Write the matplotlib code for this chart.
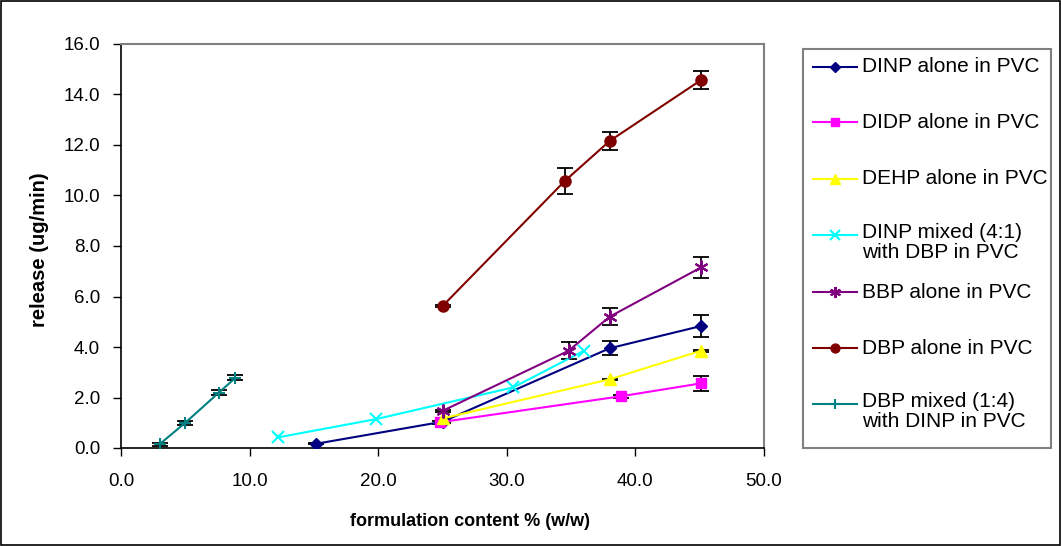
import matplotlib
matplotlib.use("Agg")
import matplotlib.pyplot as plt
from matplotlib.lines import Line2D
from matplotlib.patches import Rectangle

plt.rcParams['font.family'] = ['Liberation Sans', 'DejaVu Sans']

# ---- data ----
dinp_x = [15.2, 25.0, 38.0, 45.1]
dinp_y = [0.17, 1.04, 3.95, 4.83]
dinp_e = [0.03, 0.05, 0.28, 0.44]

didp_x = [24.8, 38.9, 45.1]
didp_y = [1.02, 2.05, 2.56]
didp_e = [0.05, 0.06, 0.29]

dehp_x = [25.0, 38.0, 45.1]
dehp_y = [1.17, 2.72, 3.85]
dehp_e = [0.03, 0.03, 0.03]

dinpmix_x = [12.2, 19.8, 30.5, 36.0]
dinpmix_y = [0.42, 1.14, 2.40, 3.85]

bbp_x = [25.0, 34.8, 38.0, 45.1]
bbp_y = [1.47, 3.85, 5.20, 7.15]
bbp_e = [0.05, 0.33, 0.33, 0.42]

dbp_x = [25.0, 34.5, 38.0, 45.1]
dbp_y = [5.62, 10.57, 12.16, 14.57]
dbp_e = [0.03, 0.51, 0.36, 0.36]

dbpmix_x = [3.0, 5.0, 7.6, 8.9]
dbpmix_y = [0.15, 1.00, 2.19, 2.78]
dbpmix_e = [0.06, 0.08, 0.10, 0.10]

labels = ["DINP alone in PVC", "DIDP alone in PVC", "DEHP alone in PVC",
          "DINP mixed (4:1)\nwith DBP in PVC", "BBP alone in PVC",
          "DBP alone in PVC", "DBP mixed (1:4)\nwith DINP in PVC"]

x_ticks = [0, 10, 20, 30, 40, 50]
y_ticks = [0, 2, 4, 6, 8, 10, 12, 14, 16]

W, H = 1062, 546
fig = plt.figure(figsize=(W / 100, H / 100), dpi=100)
ax = fig.add_axes([121 / W, 1 - 448 / H, (764 - 121) / W, (448 - 44) / H])

styles = [
    dict(color='#000080', marker='D', ms=6.5, mec='#000080', mfc='#000080'),
    dict(color='#FF00FF', marker='s', ms=7, mec='#FF00FF', mfc='#FF00FF'),
    dict(color='#FFFF00', marker='^', ms=9, mec='#FFFF00', mfc='#FFFF00'),
    dict(color='#00FFFF', marker='x', ms=9, mew=1.5, mec='#00FFFF'),
    dict(color='#800080', marker=(6, 2, 0), ms=10, mew=1.5, mec='#800080'),
    dict(color='#800000', marker='o', ms=8, mec='#800000', mfc='#800000'),
    dict(color='#008080', marker='+', ms=9, mew=1.5, mec='#008080'),
]

series = [
    (dinp_x, dinp_y, dinp_e),
    (didp_x, didp_y, didp_e),
    (dehp_x, dehp_y, dehp_e),
    (dinpmix_x, dinpmix_y, None),
    (bbp_x, bbp_y, bbp_e),
    (dbp_x, dbp_y, dbp_e),
    (dbpmix_x, dbpmix_y, dbpmix_e),
]

for (xs, ys, es), st in zip(series, styles):
    if es is not None:
        ax.errorbar(xs, ys, yerr=es, fmt='none', ecolor='black',
                    elinewidth=1.3, capsize=6, capthick=1.3, zorder=2)
    ax.plot(xs, ys, lw=1.5, zorder=3, **st)

ax.set_xlim(0, 50)
ax.set_ylim(0, 16)
ax.set_xticks(x_ticks)
ax.set_yticks(y_ticks)
ax.set_xticklabels([f"{v:.1f}" for v in x_ticks])
ax.set_yticklabels([f"{v:.1f}" for v in y_ticks])
ax.tick_params(direction='out', length=6, width=1, labelsize=13.5, pad=9)
ax.tick_params(axis='x', pad=12)
for s in ['top', 'right']:
    ax.spines[s].set_color('#808080')
    ax.spines[s].set_linewidth(1.5)
for s in ['left', 'bottom']:
    ax.spines[s].set_color('black')
    ax.spines[s].set_linewidth(1.2)

# axis titles (positions from reference)
fig.text(470 / W, 1 - 521 / H, "formulation content % (w/w)", fontsize=13,
         fontweight='bold', ha='center', va='center')
fig.text(40 / W, 1 - 250 / H, "release (ug/min)", fontsize=14.5,
         fontweight='bold', ha='center', va='center', rotation=90)

# ---- manual legend (figure pixel coords) ----
def fx(px):
    return px / W

def fy(py):
    return 1 - py / H

fig.patches.append(Rectangle((fx(803), fy(448)), fx(1051) - fx(803), fy(49) - fy(448),
                             transform=fig.transFigure, fill=False,
                             edgecolor='#808080', lw=1.5))
rows = [66.7, 122.3, 179, 235, 292, 348, 404]
for py, st, lab in zip(rows, styles, labels):
    st2 = dict(st)
    st2['ms'] = st2['ms'] * 0.8
    fig.add_artist(Line2D([fx(813), fx(857)], [fy(py), fy(py)],
                          transform=fig.transFigure, lw=1.5,
                          color=st2['color']))
    fig.add_artist(Line2D([fx(835)], [fy(py)], transform=fig.transFigure,
                          linestyle='none', **st2))
    if '\n' in lab:
        fig.text(fx(862), fy(py - 12), lab, fontsize=15, va='top', ha='left',
                 linespacing=1.05, transform=fig.transFigure)
    else:
        fig.text(fx(862), fy(py), lab, fontsize=15, va='center', ha='left',
                 transform=fig.transFigure)

# outer border
fig.patches.append(Rectangle((0.0005, 0.001), 0.998, 0.997, transform=fig.transFigure,
                             fill=False, edgecolor='black', lw=1.2))

fig.savefig("out.png", dpi=100)
